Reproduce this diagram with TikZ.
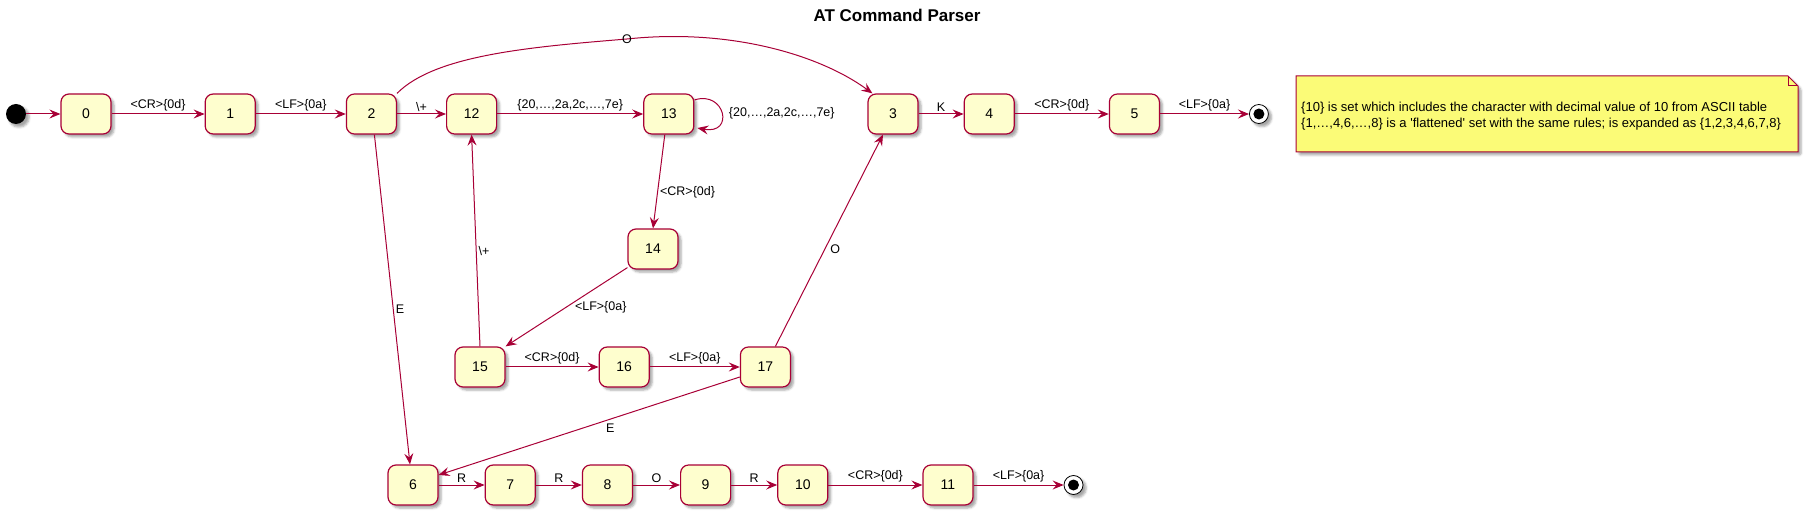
\documentclass[tikz,border=0pt]{standalone}
\usepackage{fontspec}
\setmainfont{Liberation Sans}
\usetikzlibrary{arrows.meta, positioning, shadows.blur}
\definecolor{umlRed}{HTML}{A80036}
\definecolor{umlFill}{HTML}{FEFECE}
\definecolor{noteFill}{HTML}{FBFB77}
\tikzset{
  shd/.style={blur shadow={shadow xshift=3pt, shadow yshift=-3pt,
    shadow blur steps=4, shadow blur extra rounding=1.5pt, shadow opacity=35}},
  stateN/.style={rectangle, rounded corners=8pt, draw=umlRed, line width=1.2pt,
    fill=umlFill, minimum width=50pt, minimum height=40pt, inner sep=0pt,
    font=\fontsize{14}{16}\selectfont, shd},
  startN/.style={circle, fill=black, minimum size=20pt, inner sep=0pt, shd},
  endN/.style={circle, draw=black, fill=white, line width=0.8pt,
    minimum size=19pt, inner sep=0pt, shd,
    path picture={\fill[black] (path picture bounding box.center) circle (5.5pt);}},
  arr/.style={-{Stealth[length=11pt,width=9pt,inset=4pt]}, line width=1pt, color=umlRed},
  tlabel/.style={font=\fontsize{12.5}{14}\selectfont, text=black, inner sep=2pt},
  titleT/.style={font=\bfseries\fontsize{17}{20}\selectfont},
  noteLine/.style={draw=umlRed, line width=1pt, fill=noteFill},
  noteTxt/.style={font=\fontsize{13}{16}\selectfont, align=left, inner sep=0pt},
}

\begin{document}
\begin{tikzpicture}[x=1pt, y=-1pt]
\useasboundingbox (0,0) rectangle (1804,518);

\node[titleT] (title) at (897,15) {AT Command Parser};

%% -- top row ------------------------------------------------
\node[startN] (init) at (16,114) {};
\node[stateN] (s0) at (86,114) {0};
\node[stateN, right=93pt of s0] (s1) {1};
\node[stateN, right=90pt of s1] (s2) {2};
\node[stateN, right=49pt of s2] (s12) {12};
\node[stateN, right=146pt of s12] (s13) {13};
\node[stateN, right=173pt of s13] (s3) {3};
\node[stateN, right=45pt of s3] (s4) {4};
\node[stateN, right=94pt of s4] (s5) {5};
\node[endN, right=89pt of s5] (fin1) {};

%% -- middle rows --------------------------------------------
\node[stateN] (s14) at (653,249) {14};
\node[stateN] (s15) at (480,367) {15};
\node[stateN, right=93pt of s15] (s16) {16};
\node[stateN, right=90pt of s16] (s17) {17};

%% -- bottom row ---------------------------------------------
\node[stateN] (s6) at (413,485) {6};
\node[stateN, right=46pt of s6] (s7) {7};
\node[stateN, right=46pt of s7] (s8) {8};
\node[stateN, right=47pt of s8] (s9) {9};
\node[stateN, right=46pt of s9] (s10) {10};
\node[stateN, right=94pt of s10] (s11) {11};
\node[endN, right=90pt of s11] (fin2) {};

%% -- transitions --------------------------------------------
\draw[arr] (init) -- (s0);
\draw[arr] (s0) -- node[tlabel, above]{<CR>\{0d\}} (s1);
\draw[arr] (s1) -- node[tlabel, above]{<LF>\{0a\}} (s2);
\draw[arr] (s2) -- node[tlabel, above]{\textbackslash+} (s12);
\draw[arr] (s12) -- node[tlabel, above]{\{20,…,2a,2c,…,7e\}} (s13);
\draw[arr] ([yshift=14pt]s13.east) .. controls (725,90) and (735,135)
  .. node[tlabel, right=5pt]{\{20,…,2a,2c,…,7e\}} ([xshift=3pt,yshift=-14pt]s13.east);
\draw[arr] (s2.north east) .. controls (435,55) and (530,47) .. (627,39)
  node[tlabel]{O} .. controls (730,28) and (820,55) .. ([xshift=5pt]s3.north west);
\draw[arr] (s3) -- node[tlabel, above]{K} (s4);
\draw[arr] (s4) -- node[tlabel, above]{<CR>\{0d\}} (s5);
\draw[arr] (s5) -- node[tlabel, above]{<LF>\{0a\}} (fin1);

\draw[arr] ([xshift=-4pt]s13.south) -- node[tlabel, pos=.61, right]{<CR>\{0d\}} (s14.north);
\draw[arr] ([yshift=2pt]s14.south west) -- node[tlabel, right=6pt]{<LF>\{0a\}} (s15.north east);
\draw[arr] (s15.north) -- node[tlabel, pos=.45, right]{\textbackslash+} (s12.south);
\draw[arr] (s15) -- node[tlabel, above]{<CR>\{0d\}} (s16);
\draw[arr] (s16) -- node[tlabel, above]{<LF>\{0a\}} (s17);
\draw[arr] ([xshift=10pt]s17.north) -- node[tlabel, pos=.46, right=3pt]{O} ([xshift=-10pt]s3.south);
\draw[arr] ([yshift=-10pt]s17.west) -- node[tlabel, pos=.43, below=2pt]{E} ([yshift=10pt]s6.east);
\draw[arr] ([xshift=3pt]s2.south) -- node[tlabel, pos=.53, right]{E} ([xshift=-3pt]s6.north);

\draw[arr] (s6) -- node[tlabel, above]{R} (s7);
\draw[arr] (s7) -- node[tlabel, above]{R} (s8);
\draw[arr] (s8) -- node[tlabel, above]{O} (s9);
\draw[arr] (s9) -- node[tlabel, above]{R} (s10);
\draw[arr] (s10) -- node[tlabel, above]{<CR>\{0d\}} (s11);
\draw[arr] (s11) -- node[tlabel, above]{<LF>\{0a\}} (fin2);

%% -- note ---------------------------------------------------
\filldraw[noteLine, shd] (1296,76) -- (1788,76) -- (1798,86) -- (1798,152) -- (1296,152) -- cycle;
\draw[noteLine, fill=none] (1788,76) -- (1788,86) -- (1798,86);
\node[noteTxt, anchor=west] (note) at (1301,116)
  {\{10\} is set which includes the character with decimal value of 10 from ASCII table\\
   \{1,…,4,6,…,8\} is a \textquotesingle flattened\textquotesingle\ set with the same rules; is expanded as \{1,2,3,4,6,7,8\}};

\end{tikzpicture}
\end{document}
